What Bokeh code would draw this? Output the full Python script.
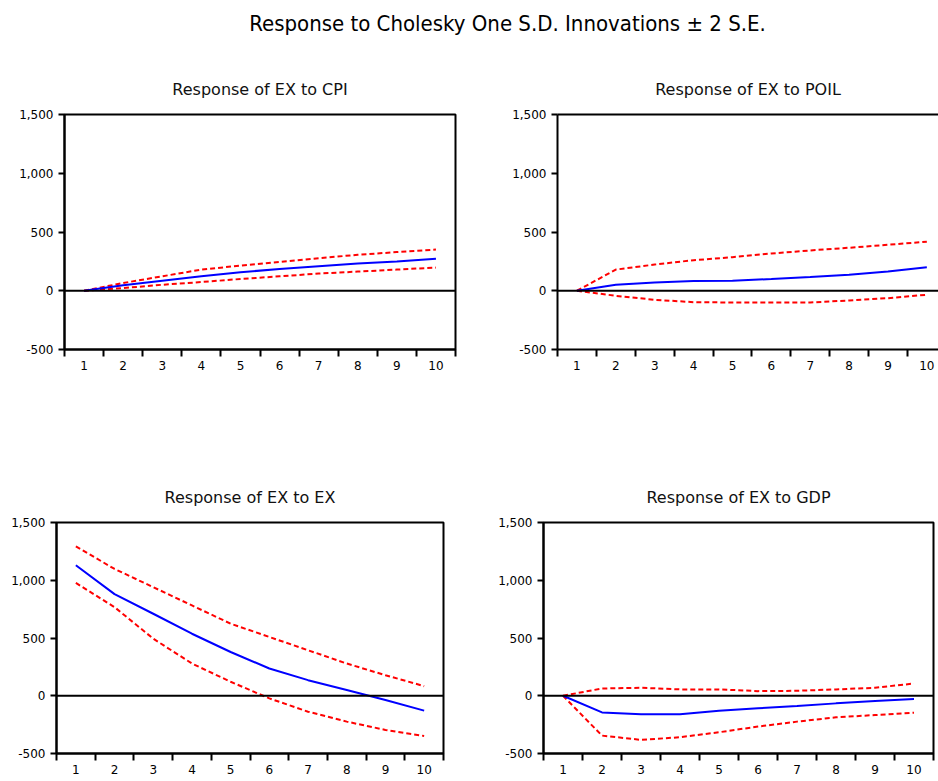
from bokeh.plotting import figure
from bokeh.layouts import column, row
from bokeh.models import FixedTicker, NumeralTickFormatter, Span, LinearAxis, Range1d
from bokeh.embed import file_html
from bokeh.resources import INLINE

periods = [1, 2, 3, 4, 5, 6, 7, 8, 9, 10]
y_ticks = [-500, 0, 500, 1000, 1500]

cpi_resp = [0, 46, 86, 123, 157, 186, 209, 231, 249, 272]
cpi_hi = [0, 66, 123, 180, 214, 246, 277, 306, 329, 351]
cpi_lo = [0, 23, 51, 74, 100, 123, 146, 163, 180, 197]

poil_resp = [0, 51, 71, 83, 86, 100, 117, 137, 163, 200]
poil_hi = [0, 180, 223, 260, 286, 317, 343, 366, 391, 417]
poil_lo = [0, -43, -77, -97, -100, -100, -100, -83, -63, -34]

ex_resp = [1130, 880, 710, 537, 379, 236, 135, 49, -37, -129]
ex_hi = [1293, 1098, 940, 782, 624, 509, 394, 279, 178, 83]
ex_lo = [977, 767, 494, 279, 121, -23, -138, -224, -296, -348]

gdp_resp = [0, -144, -161, -161, -129, -109, -89, -66, -46, -29]
gdp_hi = [0, 63, 69, 55, 55, 40, 43, 55, 69, 106]
gdp_lo = [0, -345, -382, -359, -316, -267, -224, -187, -167, -147]

FONT = "DejaVu Sans"


def panel(title, resp, lo, hi, w, h, bl, br, bt, bb, x_end=10.5, outline=True):
    p = figure(width=w, height=h, x_range=Range1d(0.5, x_end), y_range=Range1d(-500, 1500),
               toolbar_location=None, output_backend="svg",
               min_border_left=bl, min_border_right=br, min_border_top=bt, min_border_bottom=bb)
    p.title.text = title
    p.title.align = "center"
    p.title.text_font = FONT
    p.title.text_font_size = "16px"
    p.title.text_font_style = "normal"
    p.title.text_color = "#111111"
    p.title.standoff = 31
    p.xgrid.visible = False
    p.ygrid.visible = False
    bounds = [x - 0.5 for x in periods] + [periods[-1] + 0.5]
    xa = p.below[0]
    xa.ticker = FixedTicker(ticks=periods, minor_ticks=bounds)
    xa.major_tick_line_color = None
    xa.minor_tick_line_color = "black"
    xa.minor_tick_line_width = 2
    xa.minor_tick_out = 7
    xa.minor_tick_in = 0
    xa.axis_line_width = 2
    xa.major_label_standoff = 4
    xa.major_label_text_font = FONT
    xa.major_label_text_font_size = "12px"
    xa.major_label_text_color = "black"
    ya = p.left[0]
    ya.ticker = FixedTicker(ticks=y_ticks)
    ya.formatter = NumeralTickFormatter(format="0,0")
    ya.major_tick_out = 6
    ya.major_tick_in = 0
    ya.major_tick_line_width = 2
    ya.axis_line_width = 2
    ya.minor_tick_line_color = None
    ya.major_label_standoff = 5
    ya.major_label_text_font = FONT
    ya.major_label_text_font_size = "12px"
    ya.major_label_text_color = "black"
    if outline:
        p.outline_line_color = "black"
        p.outline_line_width = 2
        p.outline_line_alpha = 1
    else:
        p.outline_line_color = None
        top = LinearAxis(ticker=FixedTicker(ticks=[]), major_label_text_font_size="0px",
                         axis_line_width=2, axis_line_color="black",
                         major_tick_line_color=None, minor_tick_line_color=None,
                         major_label_standoff=0)
        p.add_layout(top, "above")
    p.add_layout(Span(location=0, dimension="width", line_color="black", line_width=1.8))
    p.line(periods, hi, line_color="#FF0000", line_width=2, line_dash="5 3")
    p.line(periods, lo, line_color="#FF0000", line_width=2, line_dash="5 3")
    p.line(periods, resp, line_color="#0000FF", line_width=2)
    return p


head = figure(width=938, height=50, toolbar_location=None, output_backend="svg",
              x_axis_type=None, y_axis_type=None, min_border_left=76, min_border_right=0,
              min_border_top=21, min_border_bottom=0)
head.title.text = "Response to Cholesky One S.D. Innovations \u00b1 2 S.E."
head.title.align = "center"
head.title.text_font = "DejaVu Sans Condensed"
head.title.text_font_size = "22px"
head.title.text_font_style = "normal"
head.title.text_color = "black"
head.title.standoff = 17
head.outline_line_color = None

p1 = panel("Response of EX to CPI", cpi_resp, cpi_lo, cpi_hi, 469, 410, 64, 14, 64, 111)
p2 = panel("Response of EX to POIL", poil_resp, poil_lo, poil_hi, 469, 410, 88, 0, 64, 111,
           x_end=10.3, outline=False)
p3 = panel("Response of EX to EX", ex_resp, ex_lo, ex_hi, 469, 320, 56, 26, 62, 27)
p4 = panel("Response of EX to GDP", gdp_resp, gdp_lo, gdp_hi, 469, 320, 74, 5, 62, 27)

layout = column(head, row(p1, p2), row(p3, p4))
open("out.html", "w").write(file_html(layout, INLINE))
